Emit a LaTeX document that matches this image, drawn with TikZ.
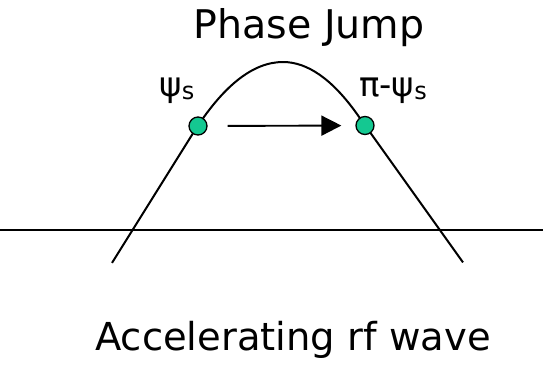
\documentclass[tikz,border=0pt]{standalone}
\usepackage{fontspec}
\setmainfont{DejaVu Sans}
\usetikzlibrary{arrows.meta}
\definecolor{dotgreen}{RGB}{20,200,145}
\newcommand{\subs}{\raisebox{-3pt}{\fontsize{24}{26}\selectfont s}}
\tikzset{
  wave/.style={line width=2pt},
  phdot/.style={circle, draw=black, line width=1.3pt, fill=dotgreen, minimum size=18pt, inner sep=0pt},
  lbl/.style={inner sep=0pt, anchor=base, font=\fontsize{34}{36}\selectfont},
  ttl/.style={inner sep=0pt, anchor=base, font=\fontsize{39.5}{42}\selectfont},
  ttlb/.style={inner sep=0pt, anchor=base, font=\fontsize{38.5}{42}\selectfont},
}
\begin{document}
\begin{tikzpicture}[x=1pt,y=-1pt]
\useasboundingbox (0,0) rectangle (543,364);
% wave
\coordinate (wl) at (112,262.9);
\coordinate (tl) at (192.1,134.7);
\coordinate (pk) at (283,62);
\coordinate (tr) at (356.7,113.6);
\coordinate (wr) at (463,262.4);
\draw[wave, line join=round] (wl) -- (tl) .. controls (222.4,86.2) and (252.7,62) .. (pk)
  .. controls (307.5,62) and (332.1,79.2) .. (tr) -- (wr);
% axis
\coordinate (axl) at (0,230);
\coordinate (axr) at (543,230);
\draw[wave] (axl) -- (axr);
% dots and arrow
\node[phdot] (d1) at (198,126) {};
\node[phdot] (d2) at (365,125.5) {};
\draw[line width=1.9pt, -{Triangle[length=20pt,width=20pt]}, shorten <=20pt, shorten >=14pt] (d1) -- (d2);
% labels
\node[lbl] (l1) at (177,96) {ψ\subs};
\node[lbl] (l2) at (393,96) {π-ψ\subs};
\node[ttl] (t1) at (309,38.5) {Phase Jump};
\node[ttlb] (t2) at (293,350) {Accelerating rf wave};
\end{tikzpicture}
\end{document}
